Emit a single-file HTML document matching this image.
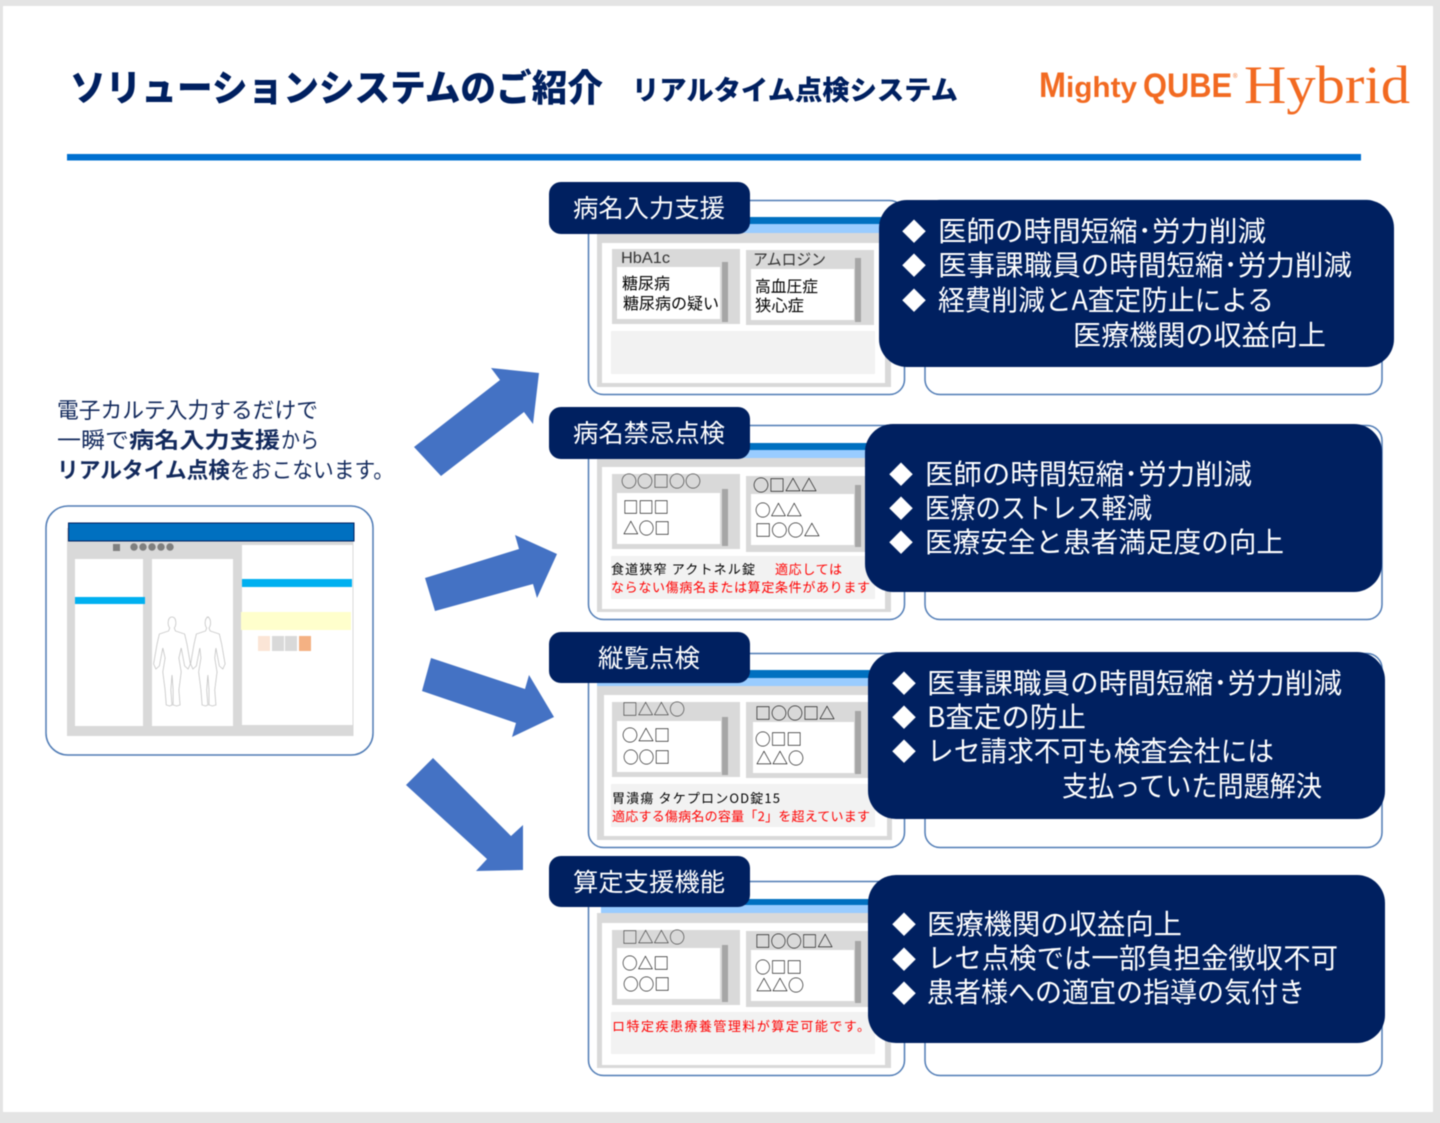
<!DOCTYPE html>
<html lang="ja"><head><meta charset="utf-8"><title>ソリューションシステムのご紹介</title>
<style>
html,body{margin:0;padding:0;background:#e4e4e4;width:1440px;height:1123px;overflow:hidden}
svg{display:block;filter:blur(.4px)}
text{font-family:"Liberation Sans","Noto Sans CJK JP",sans-serif}
.jp{font-family:"Noto Sans CJK JP","Liberation Sans",sans-serif}
.t{fill:#fff;font-size:28px}
.d{fill:#fff;font-size:24px}
.l{fill:#fff;font-size:25px}
.s{fill:#000;font-size:16px}
.g{fill:#333;font-size:16px}
.k{fill:#000;font-size:13px}
.r{fill:#f00;font-size:13px}
.intro{fill:#12295c;font-size:22px}
.o{fill:none;stroke:#4f7bb5;stroke-width:1.5}
</style></head><body>
<svg width="1440" height="1123" viewBox="0 0 1440 1123" xmlns="http://www.w3.org/2000/svg">
<rect x="3" y="6" width="1430" height="1106" fill="#fff"/>

<text class="jp" x="70" y="101" font-size="37" font-weight="900" fill="#002060" textLength="533" lengthAdjust="spacingAndGlyphs">ソリューションシステムのご紹介</text>
<text class="jp" x="632" y="100" font-size="27" font-weight="900" fill="#002060" textLength="326" lengthAdjust="spacingAndGlyphs">リアルタイム点検システム</text>
<text x="1039" y="97" font-size="35" font-weight="700" fill="#f26a21" textLength="27" lengthAdjust="spacingAndGlyphs">M</text>
<text x="1066" y="97" font-size="29" font-weight="700" fill="#f26a21" textLength="71" lengthAdjust="spacingAndGlyphs">ighty</text>
<text x="1143" y="97" font-size="34" font-weight="700" fill="#f26a21" textLength="89" lengthAdjust="spacingAndGlyphs">QUBE</text>
<text x="1233" y="78" font-size="6" fill="#f26a21">®</text>
<text x="1244" y="103" font-size="54" fill="#f26a21" style="font-family:'Liberation Serif',serif" textLength="166" lengthAdjust="spacingAndGlyphs">Hybrid</text>
<rect x="67" y="154" width="1294" height="6.500" fill="#0070d0"/>

<text class="jp intro" x="57" y="418" textLength="261" lengthAdjust="spacingAndGlyphs">電子カルテ入力するだけで</text>
<text class="jp intro" x="57" y="448" textLength="72" lengthAdjust="spacingAndGlyphs">一瞬で</text>
<text class="jp intro" x="129" y="448" font-weight="700" textLength="151" lengthAdjust="spacingAndGlyphs">病名入力支援</text>
<text class="jp intro" x="281" y="448" textLength="38" lengthAdjust="spacingAndGlyphs">から</text>
<text class="jp intro" x="57" y="478" font-weight="700" textLength="173" lengthAdjust="spacingAndGlyphs">リアルタイム点検</text>
<text class="jp intro" x="230" y="478" textLength="164" lengthAdjust="spacingAndGlyphs">をおこないます。</text>

<!-- left screen -->
<rect x="46" y="506" width="327" height="249" rx="22" class="o"/>
<rect x="67" y="528" width="286.500" height="208" fill="#d9d9d9"/>
<rect x="68.500" y="523" width="285.500" height="18" fill="#0070c0" stroke="#002060" stroke-width="1"/>
<rect x="75" y="559" width="68" height="167" fill="#fff"/>
<rect x="152" y="559" width="81" height="167" fill="#fff"/>
<rect x="242" y="545" width="110.500" height="180" fill="#fff"/>
<rect x="75" y="597" width="70" height="7" fill="#00b0f0"/>
<rect x="242" y="579" width="110" height="8" fill="#00b0f0"/>
<rect x="241" y="612" width="110" height="18" fill="#ffffcc"/>
<rect x="258" y="636" width="12" height="15" fill="#fbe5d6"/>
<rect x="272" y="636" width="12" height="15" fill="#d9d9d9"/>
<rect x="285" y="636" width="12" height="15" fill="#d9d9d9"/>
<rect x="299" y="636" width="12" height="15" fill="#f4b183"/>
<rect x="113" y="544" width="7" height="7" fill="#7f7f7f"/>
<g fill="#7f7f7f"><circle cx="134" cy="547" r="3.700"/><circle cx="143" cy="547" r="3.700"/><circle cx="152" cy="547" r="3.700"/><circle cx="161" cy="547" r="3.700"/><circle cx="170" cy="547" r="3.700"/></g>
<g fill="none" stroke="#c4c4c4" stroke-width=".7">
<path transform="translate(172 0) scale(1.15 1) translate(-172 0)" d="M172 617c-4 0-4 8-2 11l-1 3-8 3-2 10-3 20 2 5 3-3 3-18 2 10-2 14 2 18 1 15 3 1 2-1-1-15 1-15 1 15 0 15 3 1 3-1-1-15 2-18-2-14 2-10 3 18 3 3 2-5-3-20-2-10-8-3-1-3c2-3 2-11-2-11z"/>
<path transform="translate(209 0) scale(1.15 1) translate(-209 0)" d="M209 617c-4 0-4 8-2 11l-1 3-8 3-2 10-3 20 2 5 3-3 3-18 1 10-2 14 2 18 1 15 3 1 2-1-1-15 1-15 1 15 0 15 3 1 3-1-1-15 2-18-2-14 1-10 3 18 3 3 2-5-3-20-2-10-8-3-1-3c2-3 2-11-2-11z"/>
</g>

<!-- arrows -->
<g fill="#4472c4">
<polygon points="414,447 500,380 491,368 539,373 533,424 524,412 441,476"/>
<polygon points="425,578 519,549 515,535 557,554 537,598 533,584 435,611"/>
<polygon points="431,658 525,689 529,675 554,717 512,737 516,723 422,691"/>
<polygon points="433,758 511,836 523,825 523,870 476,871 487,859 406,785"/>
</g>

<!-- panel 1 -->
<rect x="588.500" y="200.500" width="316" height="194" rx="15" fill="#fff" class="o"/>
<rect x="925" y="200.500" width="457" height="194" rx="15" fill="#fff" class="o"/>
<rect x="597" y="217" width="294" height="7" fill="#0070c0"/><rect x="597" y="224" width="294" height="9" fill="#99ccff"/>
<rect x="597" y="233" width="294" height="154" fill="#d9d9d9"/><rect x="602" y="243" width="283" height="140" fill="#fff"/>
<rect x="612" y="249" width="128" height="75" fill="#d9d9d9"/><rect x="617" y="267" width="103" height="52" fill="#fff"/><rect x="722" y="262" width="6" height="60" fill="#a6a6a6"/>
<rect x="746" y="250" width="128" height="75" fill="#d9d9d9"/><rect x="751" y="269" width="103" height="51" fill="#fff"/><rect x="855" y="258" width="6" height="64" fill="#a6a6a6"/>
<rect x="611" y="331" width="264" height="43" fill="#f2f2f2"/>
<text class="g" x="621" y="263" textLength="49" lengthAdjust="spacingAndGlyphs">HbA1c</text>
<text class="jp g" x="753" y="265" textLength="73" lengthAdjust="spacingAndGlyphs">アムロジン</text>
<text class="jp s" x="622" y="289" textLength="48" lengthAdjust="spacingAndGlyphs">糖尿病</text>
<text class="jp s" x="623" y="309" textLength="96" lengthAdjust="spacingAndGlyphs">糖尿病の疑い</text>
<text class="jp s" x="755" y="292" textLength="63" lengthAdjust="spacingAndGlyphs">高血圧症</text>
<text class="jp s" x="755" y="311" textLength="49" lengthAdjust="spacingAndGlyphs">狭心症</text>

<!-- panel 2 -->
<rect x="588.500" y="425.500" width="316" height="194" rx="15" fill="#fff" class="o"/>
<rect x="925" y="425.500" width="457" height="194" rx="15" fill="#fff" class="o"/>
<rect x="597" y="443" width="294" height="7" fill="#0070c0"/><rect x="597" y="450" width="294" height="8" fill="#99ccff"/>
<rect x="597" y="458" width="294" height="154" fill="#d9d9d9"/><rect x="602" y="467" width="283" height="142" fill="#fff"/>
<rect x="612" y="474" width="128" height="75" fill="#d9d9d9"/><rect x="617" y="493" width="103" height="51" fill="#fff"/><rect x="722" y="489" width="6" height="57" fill="#a6a6a6"/>
<rect x="746" y="476" width="128" height="76" fill="#d9d9d9"/><rect x="751" y="494" width="103" height="51" fill="#fff"/><rect x="855" y="485" width="6" height="62" fill="#a6a6a6"/>
<rect x="611" y="556" width="264" height="43" fill="#f2f2f2"/>
<text class="jp g" x="621" y="487" textLength="80" lengthAdjust="spacingAndGlyphs">○○□○○</text>
<text class="jp s" x="753" y="491" textLength="64" lengthAdjust="spacingAndGlyphs">○□△△</text>
<text class="jp s" x="623" y="513" textLength="46" lengthAdjust="spacingAndGlyphs">□□□</text>
<text class="jp s" x="623" y="534" textLength="47" lengthAdjust="spacingAndGlyphs">△○□</text>
<text class="jp s" x="755" y="516" textLength="47" lengthAdjust="spacingAndGlyphs">○△△</text>
<text class="jp s" x="755" y="536" textLength="65" lengthAdjust="spacingAndGlyphs">□○○△</text>
<text class="jp k" x="611" y="574" textLength="144">食道狭窄 アクトネル錠</text>
<text class="jp r" x="775" y="574" textLength="67">適応しては</text>
<text class="jp r" x="611" y="592" textLength="259">ならない傷病名または算定条件があります</text>

<!-- panel 3 -->
<rect x="588.500" y="653.500" width="316" height="194" rx="15" fill="#fff" class="o"/>
<rect x="925" y="653.500" width="457" height="194" rx="15" fill="#fff" class="o"/>
<rect x="597" y="670" width="296" height="8" fill="#0070c0"/><rect x="597" y="678" width="296" height="8" fill="#99ccff"/>
<rect x="597" y="686" width="295" height="154" fill="#d9d9d9"/><rect x="604" y="695" width="283" height="141" fill="#fff"/>
<rect x="612" y="702" width="128" height="75" fill="#d9d9d9"/><rect x="617" y="721" width="104" height="51" fill="#fff"/><rect x="722" y="717" width="6" height="58" fill="#a6a6a6"/>
<rect x="746" y="702" width="128" height="76" fill="#d9d9d9"/><rect x="753" y="722" width="101" height="51" fill="#fff"/><rect x="855" y="711" width="6" height="63" fill="#a6a6a6"/>
<rect x="611" y="784" width="264" height="43" fill="#f2f2f2"/>
<text class="jp g" x="622" y="715" textLength="63" lengthAdjust="spacingAndGlyphs">□△△○</text>
<text class="jp s" x="755" y="719" textLength="80" lengthAdjust="spacingAndGlyphs">□○○□△</text>
<text class="jp s" x="622" y="741" textLength="48" lengthAdjust="spacingAndGlyphs">○△□</text>
<text class="jp s" x="623" y="763" textLength="47" lengthAdjust="spacingAndGlyphs">○○□</text>
<text class="jp s" x="755" y="745" textLength="47" lengthAdjust="spacingAndGlyphs">○□□</text>
<text class="jp s" x="756" y="764" textLength="48" lengthAdjust="spacingAndGlyphs">△△○</text>
<text class="jp k" x="612" y="803" textLength="168">胃潰瘍 タケプロンOD錠15</text>
<text class="jp r" x="612" y="821" textLength="258">適応する傷病名の容量「2」を超えています</text>

<!-- panel 4 -->
<rect x="588.500" y="881.500" width="316" height="194" rx="15" fill="#fff" class="o"/>
<rect x="925" y="881.500" width="457" height="194" rx="15" fill="#fff" class="o"/>
<rect x="601" y="899" width="290" height="6" fill="#0070c0"/><rect x="601" y="905" width="290" height="8" fill="#99ccff"/>
<rect x="597" y="913" width="294" height="155" fill="#d9d9d9"/><rect x="602" y="923" width="283" height="142" fill="#fff"/>
<rect x="612" y="930" width="128" height="75" fill="#d9d9d9"/><rect x="617" y="948" width="103" height="51" fill="#fff"/><rect x="722" y="945" width="6" height="57" fill="#a6a6a6"/>
<rect x="746" y="931" width="128" height="76" fill="#d9d9d9"/><rect x="751" y="950" width="103" height="51" fill="#fff"/><rect x="855" y="941" width="6" height="62" fill="#a6a6a6"/>
<rect x="611" y="1012" width="264" height="42" fill="#f2f2f2"/>
<text class="jp g" x="622" y="943" textLength="63" lengthAdjust="spacingAndGlyphs">□△△○</text>
<text class="jp s" x="755" y="947" textLength="78" lengthAdjust="spacingAndGlyphs">□○○□△</text>
<text class="jp s" x="622" y="969" textLength="47" lengthAdjust="spacingAndGlyphs">○△□</text>
<text class="jp s" x="623" y="990" textLength="47" lengthAdjust="spacingAndGlyphs">○○□</text>
<text class="jp s" x="755" y="973" textLength="47" lengthAdjust="spacingAndGlyphs">○□□</text>
<text class="jp s" x="756" y="991" textLength="48" lengthAdjust="spacingAndGlyphs">△△○</text>
<text class="jp r" x="612" y="1031" textLength="258">ロ特定疾患療養管理料が算定可能です。</text>

<!-- tab labels -->
<g fill="#002060">
<rect x="549" y="182" width="201" height="52" rx="12"/>
<rect x="549" y="407" width="201" height="52" rx="12"/>
<rect x="549" y="632" width="201" height="51" rx="12"/>
<rect x="549" y="856" width="201" height="51" rx="12"/>
</g>
<text class="jp l" x="573" y="217" textLength="152" lengthAdjust="spacingAndGlyphs">病名入力支援</text>
<text class="jp l" x="573" y="442" textLength="152" lengthAdjust="spacingAndGlyphs">病名禁忌点検</text>
<text class="jp l" x="598" y="667" textLength="102" lengthAdjust="spacingAndGlyphs">縦覧点検</text>
<text class="jp l" x="573" y="891" textLength="152" lengthAdjust="spacingAndGlyphs">算定支援機能</text>

<!-- dark boxes -->
<g fill="#002060">
<rect x="879" y="200" width="515" height="167" rx="28"/>
<rect x="865" y="424" width="517" height="168" rx="28"/>
<rect x="868" y="652" width="517" height="167" rx="28"/>
<rect x="868" y="875" width="517" height="168" rx="28"/>
</g>
<g class="jp">
<text class="jp d" x="902" y="240">◆</text><text class="jp d" x="902" y="274">◆</text><text class="jp d" x="902" y="309">◆</text>
<text class="jp t" x="938" y="241" textLength="328" lengthAdjust="spacingAndGlyphs">医師の時間短縮･労力削減</text>
<text class="jp t" x="938" y="275" textLength="414" lengthAdjust="spacingAndGlyphs">医事課職員の時間短縮･労力削減</text>
<text class="jp t" x="938" y="310" textLength="336" lengthAdjust="spacingAndGlyphs">経費削減とA査定防止による</text>
<text class="jp t" x="1073" y="345" textLength="253" lengthAdjust="spacingAndGlyphs">医療機関の収益向上</text>

<text class="jp d" x="889" y="483">◆</text><text class="jp d" x="889" y="517">◆</text><text class="jp d" x="889" y="551">◆</text>
<text class="jp t" x="925" y="484" textLength="327" lengthAdjust="spacingAndGlyphs">医師の時間短縮･労力削減</text>
<text class="jp t" x="925" y="518" textLength="227" lengthAdjust="spacingAndGlyphs">医療のストレス軽減</text>
<text class="jp t" x="925" y="552" textLength="359" lengthAdjust="spacingAndGlyphs">医療安全と患者満足度の向上</text>

<text class="jp d" x="892" y="692">◆</text><text class="jp d" x="892" y="726">◆</text><text class="jp d" x="892" y="760">◆</text>
<text class="jp t" x="927" y="693" textLength="415" lengthAdjust="spacingAndGlyphs">医事課職員の時間短縮･労力削減</text>
<text class="jp t" x="927" y="727" textLength="159" lengthAdjust="spacingAndGlyphs">B査定の防止</text>
<text class="jp t" x="927" y="761" textLength="347" lengthAdjust="spacingAndGlyphs">レセ請求不可も検査会社には</text>
<text class="jp t" x="1062" y="796" textLength="260" lengthAdjust="spacingAndGlyphs">支払っていた問題解決</text>

<text class="jp d" x="892" y="933">◆</text><text class="jp d" x="892" y="968">◆</text><text class="jp d" x="892" y="1002">◆</text>
<text class="jp t" x="927" y="934" textLength="255" lengthAdjust="spacingAndGlyphs">医療機関の収益向上</text>
<text class="jp t" x="927" y="968" textLength="411" lengthAdjust="spacingAndGlyphs">レセ点検では一部負担金徴収不可</text>
<text class="jp t" x="927" y="1002" textLength="378" lengthAdjust="spacingAndGlyphs">患者様への適宜の指導の気付き</text>
</g>
</svg>
</body></html>
